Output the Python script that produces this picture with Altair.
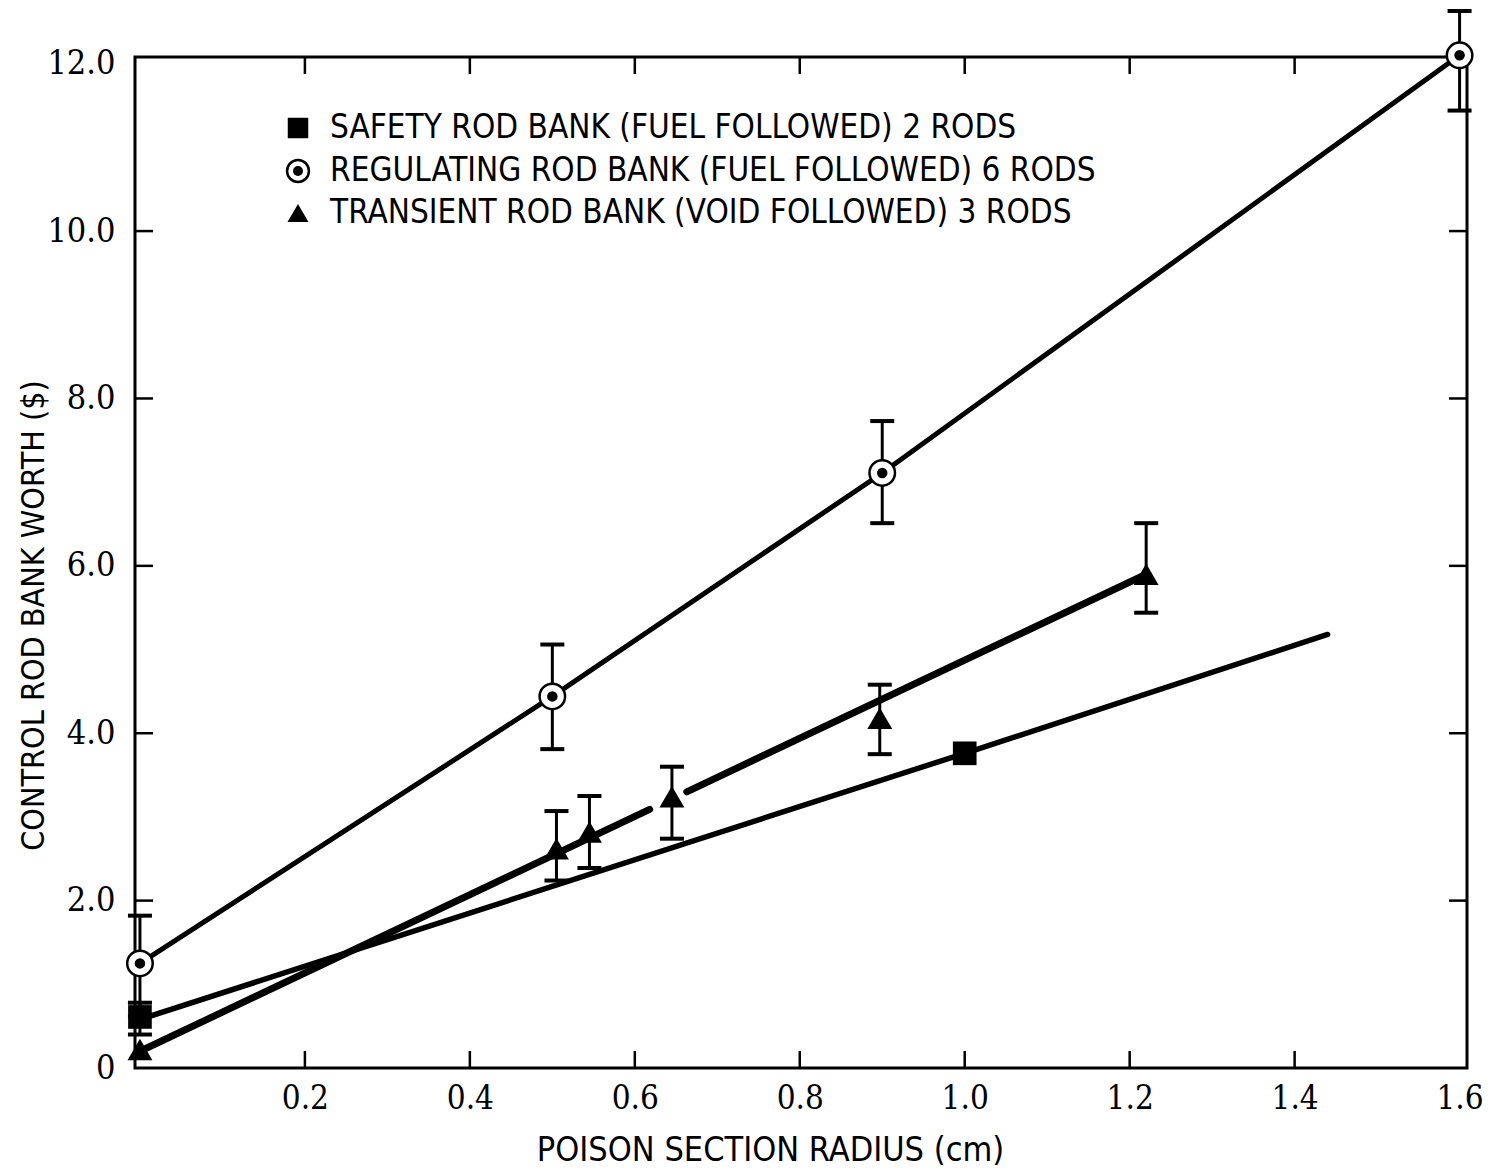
import altair as alt
import pandas as pd

# ---- data ----
reg_x = [0.0, 0.5, 0.9, 1.6]
reg_y = [1.25, 4.44, 7.11, 12.1]
reg_lo = [0.62, 3.81, 6.51, 11.44]
reg_hi = [1.82, 5.06, 7.73, 12.63]

safe_x = [0.0, 1.0]
safe_y = [0.61, 3.76]
safe_err_x = [0.0]
safe_err_lo = [0.40]
safe_err_hi = [0.78]
safe_fit_x = [0.0, 1.0, 1.44]
safe_fit_y = [0.58, 3.76, 5.18]

tri_x = [0.0, 0.505, 0.545, 0.645, 0.897, 1.22]
tri_y = [0.22, 2.62, 2.82, 3.24, 4.18, 5.90]
tri_err_x = [0.505, 0.545, 0.645, 0.897, 1.22]
tri_lo = [2.24, 2.39, 2.74, 3.75, 5.44]
tri_hi = [3.07, 3.25, 3.60, 4.58, 6.51]
tri_fit_x = [0.0, 0.618, 0.663, 1.22]
tri_fit_y = [0.20, 3.09, 3.30, 5.90]
tri_fit_seg = [1, 1, 2, 2]

x_ticks = [0.2, 0.4, 0.6, 0.8, 1.0, 1.2, 1.4, 1.6]
y_ticks = [0, 2, 4, 6, 8, 10, 12]
inner_x_ticks = [0.2, 0.4, 0.6, 0.8, 1.0, 1.2, 1.4]
inner_y_ticks = [2, 4, 6, 8, 10]

legend_labels = [
    "SAFETY ROD BANK (FUEL FOLLOWED) 2 RODS",
    "REGULATING ROD BANK (FUEL FOLLOWED) 6 RODS",
    "TRANSIENT ROD BANK (VOID FOLLOWED) 3 RODS",
]

W, H = 1332, 1011
FONT = "DejaVu Sans Condensed"
NUMFONT = "DejaVu Serif Condensed"

xs = alt.Scale(domain=[-0.006, 1.609], nice=False, zero=False)
ys = alt.Scale(domain=[0.0, 12.08], nice=False, zero=False)

X_AXIS = alt.Axis(
    values=x_ticks, format=".1f", tickSize=0, domain=False, grid=False,
    labelFont=NUMFONT, labelFontSize=33, labelColor="black", labelPadding=14,
    title="POISON SECTION RADIUS (cm)", titleFont=FONT, titleFontSize=34,
    titleFontWeight="normal", titleColor="black", titleX=635, titleY=82,
    titleBaseline="middle", titleAlign="center")
Y_AXIS = alt.Axis(
    values=y_ticks, tickSize=0, domain=False, grid=False,
    labelExpr="datum.value == 0 ? '0' : format(datum.value, '.1f')",
    labelFont=NUMFONT, labelFontSize=34, labelColor="black", labelPadding=20,
    labelFlush=False,
    title="CONTROL ROD BANK WORTH ($)", titleFont=FONT, titleFontSize=32,
    titleFontWeight="normal", titleColor="black", titleX=-102, titleY=558,
    titleAngle=-90, titleBaseline="middle", titleAlign="center")

reg = pd.DataFrame({"x": reg_x, "y": reg_y, "lo": reg_lo, "hi": reg_hi})
safe = pd.DataFrame({"x": safe_x, "y": safe_y})
safe_err = pd.DataFrame({"x": safe_err_x, "lo": safe_err_lo, "hi": safe_err_hi})
safe_fit = pd.DataFrame({"x": safe_fit_x, "y": safe_fit_y})
tri = pd.DataFrame({"x": tri_x, "y": tri_y})
tri_err = pd.DataFrame({"x": tri_err_x, "lo": tri_lo, "hi": tri_hi})
tri_fit = pd.DataFrame({"x": tri_fit_x, "y": tri_fit_y, "seg": tri_fit_seg})


def X(f="x"):
    return alt.X(f"{f}:Q", scale=xs, axis=X_AXIS)


def Y(f="y"):
    return alt.Y(f"{f}:Q", scale=ys, axis=Y_AXIS)


# inward ticks
tx = pd.DataFrame({"x": inner_x_ticks})
ty = pd.DataFrame({"y": inner_y_ticks})
tick_style = dict(color="black", strokeWidth=2.5)
ticks = [
    alt.Chart(tx).mark_rule(**tick_style).encode(x=X(), y=alt.value(H), y2=alt.value(H - 17)),
    alt.Chart(tx).mark_rule(**tick_style).encode(x=X(), y=alt.value(0), y2=alt.value(17)),
    alt.Chart(ty).mark_rule(**tick_style).encode(y=Y(), x=alt.value(0), x2=alt.value(18)),
    alt.Chart(ty).mark_rule(**tick_style).encode(y=Y(), x=alt.value(W), x2=alt.value(W - 18)),
]

# fit lines
reg_line = alt.Chart(reg).mark_line(color="black", strokeWidth=5).encode(x=X(), y=Y())
safe_line = alt.Chart(safe_fit).mark_line(color="black", strokeWidth=5.5, strokeCap="round").encode(x=X(), y=Y())
tri_line = alt.Chart(tri_fit).mark_line(color="black", strokeWidth=7, strokeCap="round").encode(
    x=X(), y=Y(), detail="seg:N")


# error bars
def errbars(df):
    bar = alt.Chart(df).mark_rule(color="black", strokeWidth=3, opacity=1).encode(
        x=X(), y=Y("lo"), y2="hi:Q")
    cap_lo = alt.Chart(df).mark_tick(color="black", orient="horizontal", size=24, thickness=4,
                                     opacity=1).encode(x=X(), y=Y("lo"))
    cap_hi = alt.Chart(df).mark_tick(color="black", orient="horizontal", size=24, thickness=4,
                                     opacity=1).encode(x=X(), y=Y("hi"))
    return [bar, cap_lo, cap_hi]


# markers
reg_pts = alt.Chart(reg).mark_point(shape="circle", size=650, filled=True, fill="white",
                                     stroke="black", strokeWidth=2.5, opacity=1).encode(x=X(), y=Y())
reg_dots = alt.Chart(reg).mark_point(shape="circle", size=110, filled=True, color="black",
                                      opacity=1).encode(x=X(), y=Y())
safe_pts = alt.Chart(safe).mark_point(shape="square", size=560, filled=True, color="black",
                                       opacity=1).encode(x=X(), y=Y())
tri_pts = alt.Chart(tri).mark_point(shape="triangle-up", size=620, filled=True, color="black",
                                     opacity=1).encode(x=X(), y=Y())

# legend (manual, inside plot)
leg = pd.DataFrame({"label": legend_labels})
ly = [71, 114, 156]
leg_layers = []
for i in range(3):
    leg_layers.append(
        alt.Chart(leg.iloc[[i]]).mark_text(align="left", baseline="middle", font=FONT, fontSize=33,
                                            color="black").encode(
            x=alt.value(195), y=alt.value(ly[i]), text="label:N"))
leg_layers += [
    alt.Chart(leg.iloc[[0]]).mark_point(shape="square", size=420, filled=True, color="black",
                                         opacity=1).encode(x=alt.value(163), y=alt.value(ly[0])),
    alt.Chart(leg.iloc[[1]]).mark_point(shape="circle", size=480, filled=True, fill="white",
                                         stroke="black", strokeWidth=2.5, opacity=1).encode(
        x=alt.value(163), y=alt.value(ly[1])),
    alt.Chart(leg.iloc[[1]]).mark_point(shape="circle", size=100, filled=True, color="black",
                                         opacity=1).encode(x=alt.value(163), y=alt.value(ly[1])),
    alt.Chart(leg.iloc[[2]]).mark_point(shape="triangle-up", size=440, filled=True, color="black",
                                         opacity=1).encode(x=alt.value(163), y=alt.value(ly[2])),
]

layers = ticks + [reg_line, safe_line, tri_line] \
    + errbars(reg) + errbars(safe_err) + errbars(tri_err) \
    + [safe_pts, tri_pts, reg_pts, reg_dots] + leg_layers

chart = alt.layer(*layers).properties(
    width=W, height=H,
    autosize=alt.AutoSizeParams(type="none"),
    padding={"left": 135, "top": 57, "right": 30, "bottom": 105},
    background="white",
).configure_view(stroke="black", strokeWidth=3)

chart.save("out.html", embed_options={"renderer": "svg", "actions": False})
